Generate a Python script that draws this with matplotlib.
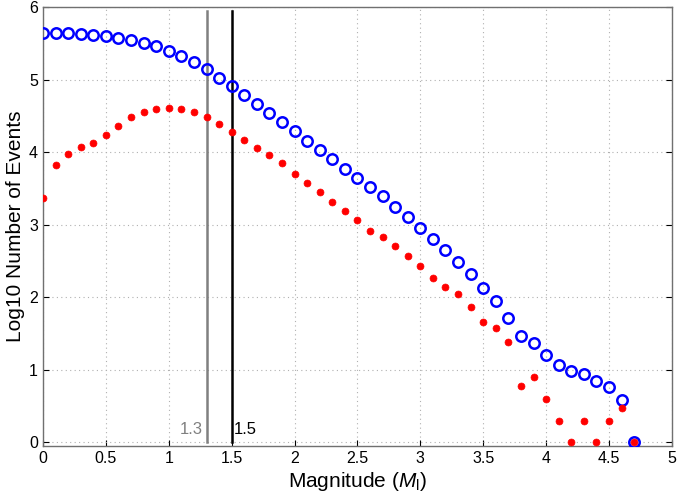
import numpy as np
import matplotlib
matplotlib.use("Agg")
import matplotlib.pyplot as plt

plt.rcParams['font.family'] = ['Liberation Sans', 'DejaVu Sans']
plt.rcParams['mathtext.fontset'] = 'custom'
plt.rcParams['mathtext.it'] = 'Liberation Sans:italic'
plt.rcParams['mathtext.rm'] = 'Liberation Sans'

magnitudes = [round(0.1 * i, 1) for i in range(48)]

cumulative = [5.65, 5.65, 5.64, 5.63, 5.62, 5.60, 5.58, 5.55, 5.51, 5.46,
              5.40, 5.33, 5.24, 5.14, 5.02, 4.91, 4.79, 4.67, 4.54, 4.42,
              4.29, 4.16, 4.03, 3.90, 3.77, 3.64, 3.52, 3.39, 3.25, 3.11,
              2.96, 2.80, 2.65, 2.49, 2.32, 2.13, 1.95, 1.72, 1.46, 1.37,
              1.20, 1.06, 0.99, 0.94, 0.84, 0.76, 0.59, 0.00]

incremental = [3.37, 3.83, 3.97, 4.07, 4.13, 4.24, 4.36, 4.48, 4.55, 4.60,
               4.61, 4.60, 4.56, 4.48, 4.39, 4.28, 4.17, 4.06, 3.96, 3.85,
               3.70, 3.58, 3.45, 3.32, 3.19, 3.07, 2.92, 2.83, 2.71, 2.57,
               2.43, 2.27, 2.14, 2.04, 1.86, 1.66, 1.57, 1.38, 0.78, 0.90,
               0.60, 0.30, 0.00, 0.30, 0.00, 0.30, 0.48, 0.00]

thresholds = [1.3, 1.5]
threshold_colors = ['#808080', '#000000']
threshold_labels = ['1.3', '1.5']

xticks = [0, 0.5, 1, 1.5, 2, 2.5, 3, 3.5, 4, 4.5, 5]
xticklabels = ['0', '0.5', '1', '1.5', '2', '2.5', '3', '3.5', '4', '4.5', '5']
yticks = [0, 1, 2, 3, 4, 5, 6]

fig = plt.figure(figsize=(6.78, 5.01), dpi=100)
ax = fig.add_axes([0.0634, 0.1098, 0.9276, 0.876])

ax.plot(magnitudes, cumulative, linestyle='none', marker='o', markersize=7.5,
        markerfacecolor='none', markeredgecolor='#0000ff', markeredgewidth=1.8,
        zorder=3)
ax.plot(magnitudes, incremental, linestyle='none', marker='o', markersize=5,
        markerfacecolor='#ff0000', markeredgecolor='#ff0000', markeredgewidth=0.5,
        zorder=4)

for xv, c in zip(thresholds, threshold_colors):
    ax.plot([xv, xv], [0, 5.95], color=c, linewidth=1.8, zorder=2)

ax.text(thresholds[0] - 0.03, 0.07, threshold_labels[0], color=threshold_colors[0],
        fontsize=12, ha='right', va='bottom')
ax.text(thresholds[1] + 0.015, 0.07, threshold_labels[1], color=threshold_colors[1],
        fontsize=12, ha='left', va='bottom')

ax.set_xlim(0, 5)
ax.set_ylim(-0.05, 6)
ax.set_xticks(xticks)
ax.set_xticklabels(xticklabels)
ax.set_yticks(yticks)
ax.tick_params(direction='in', length=4, labelsize=11.5, colors='#000000',
               top=False, right=True, width=0.8)
ax.grid(True, linestyle=(0, (1, 3)), color='#b0b0b0', linewidth=0.8)
for s in ax.spines.values():
    s.set_color('#707070')
    s.set_linewidth(1.0)

ax.set_xlabel(r'Magnitude ($M_{\mathrm{l}}$)', fontsize=15, labelpad=3)
ax.set_ylabel('Log10 Number of Events', fontsize=15, labelpad=3)

fig.savefig('out.png', dpi=100)
